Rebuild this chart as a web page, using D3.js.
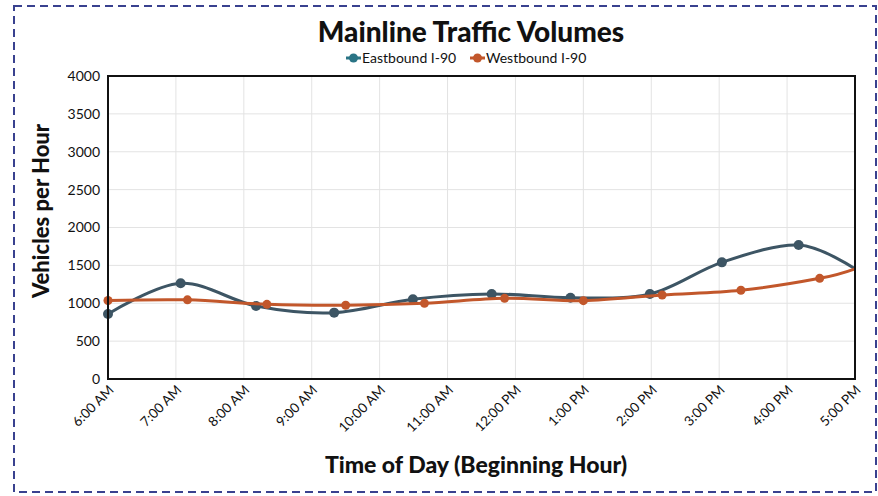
<!DOCTYPE html>
<html>
<head>
<meta charset="utf-8">
<script src="https://cdn.jsdelivr.net/npm/d3@7"></script>
<style>
  body { margin: 0; background: #fff; }
  svg text { font-family: "Lato", "Open Sans", sans-serif; fill: #111; }
</style>
</head>
<body>
<div id="chart"></div>
<script>
// tick labels on the time axis
var hours = ["6:00 AM","7:00 AM","8:00 AM","9:00 AM","10:00 AM","11:00 AM",
             "12:00 PM","1:00 PM","2:00 PM","3:00 PM","4:00 PM","5:00 PM"];
var yTicks = [0, 500, 1000, 1500, 2000, 2500, 3000, 3500, 4000];

// point positions (hours after 6:00 AM) and volumes
var eastX = [0, 1.07, 2.18, 3.33, 4.49, 5.65, 6.81, 7.98, 9.04, 10.17, 11];
var eastY = [858, 1263, 964, 876, 1052, 1122, 1073, 1122, 1540, 1769, 1455];
var westX = [0, 1.17, 2.34, 3.50, 4.66, 5.84, 7.00, 8.16, 9.32, 10.48, 11];
var westY = [1036, 1045, 986, 973, 999, 1065, 1034, 1109, 1171, 1329, 1455];

var W = 878, H = 496;
var margin = {top: 76, right: 23, bottom: 117, left: 108};
var width = W - margin.left - margin.right,
    height = H - margin.top - margin.bottom;

var svg = d3.select("#chart").append("svg")
    .attr("width", W).attr("height", H);

// dashed frame around the picture
svg.append("rect")
    .attr("x", 14).attr("y", 6).attr("width", 862).attr("height", 486)
    .attr("fill", "none").attr("stroke", "#39418f").attr("stroke-width", 2)
    .attr("stroke-dasharray", "8,5");

var g = svg.append("g")
    .attr("transform", "translate(" + margin.left + "," + margin.top + ")");

var x = d3.scaleLinear().domain([0, hours.length - 1]).range([0, width]);
var y = d3.scaleLinear().domain([0, 4000]).range([height, 0]);

// gridlines
g.append("g").selectAll("line").data(yTicks).enter().append("line")
    .attr("x1", 0).attr("x2", width)
    .attr("y1", function(d) { return y(d); }).attr("y2", function(d) { return y(d); })
    .attr("stroke", "#e3e3e3").attr("stroke-width", 1);
g.append("g").selectAll("line").data(d3.range(hours.length)).enter().append("line")
    .attr("x1", function(d) { return x(d); }).attr("x2", function(d) { return x(d); })
    .attr("y1", 0).attr("y2", height)
    .attr("stroke", "#e3e3e3").attr("stroke-width", 1);

// y axis labels
var yAxis = g.append("g")
    .call(d3.axisLeft(y).tickValues(yTicks).tickFormat(d3.format("d")).tickSize(0).tickPadding(8));
yAxis.select(".domain").remove();
yAxis.selectAll("text").style("font-size", "14px").style("font-family", "Lato");

// x axis labels, rotated
var xAxis = g.append("g")
    .attr("transform", "translate(0," + height + ")")
    .call(d3.axisBottom(x).tickValues(d3.range(hours.length))
      .tickFormat(function(i) { return hours[i]; }).tickSize(0));
xAxis.select(".domain").remove();
xAxis.selectAll("text")
    .style("font-size", "13.5px").style("font-family", "Lato")
    .attr("text-anchor", "end")
    .attr("dy", null).attr("y", 0)
    .attr("transform", "translate(6,12) rotate(-45)");

var line = d3.line()
    .x(function(d) { return x(d[0]); })
    .y(function(d) { return y(d[1]); })
    .curve(d3.curveCatmullRom.alpha(0));

var series = [
  {name: "Eastbound I-90", xs: eastX, ys: eastY, color: "#3d5564", r: 5, legend: "#2a7485"},
  {name: "Westbound I-90", xs: westX, ys: westY, color: "#c2572b", r: 4.5, legend: "#c2572b"}
];

series.forEach(function(s) {
  var pts = s.xs.map(function(v, i) { return [v, s.ys[i]]; });
  g.append("path").datum(pts)
      .attr("fill", "none").attr("stroke", s.color).attr("stroke-width", 3)
      .attr("d", line);
  g.selectAll(null).data(pts.filter(function(p) { return p[0] < hours.length - 1; }))
    .enter().append("circle")
      .attr("cx", function(d) { return x(d[0]); })
      .attr("cy", function(d) { return y(d[1]); })
      .attr("r", s.r).attr("fill", s.color);
});

// plot frame
g.append("rect").attr("width", width).attr("height", height)
    .attr("fill", "none").attr("stroke", "#111").attr("stroke-width", 2);

// title
svg.append("text").attr("x", 471).attr("y", 42).attr("text-anchor", "middle")
    .style("font-size", "28px").style("font-weight", "900").text("Mainline Traffic Volumes");

// legend
var lg = svg.append("g").attr("transform", "translate(346,58)");
var lx = [0, 124];
series.forEach(function(s, i) {
  var it = lg.append("g").attr("transform", "translate(" + lx[i] + ",0)");
  it.append("line").attr("x1", 0).attr("x2", 15).attr("stroke", s.legend).attr("stroke-width", 3);
  it.append("circle").attr("cx", 7.5).attr("r", 4.5).attr("fill", s.legend);
  it.append("text").attr("x", 16).attr("dy", "0.35em")
      .style("font-size", "14px").text(s.name);
});

// axis titles
svg.append("text")
    .attr("transform", "translate(49,211) rotate(-90)")
    .attr("text-anchor", "middle")
    .style("font-size", "22px").style("font-weight", "900").text("Vehicles per Hour");
svg.append("text").attr("x", 476).attr("y", 473).attr("text-anchor", "middle")
    .style("font-size", "23px").style("font-weight", "900").text("Time of Day (Beginning Hour)");
</script>
</body>
</html>
